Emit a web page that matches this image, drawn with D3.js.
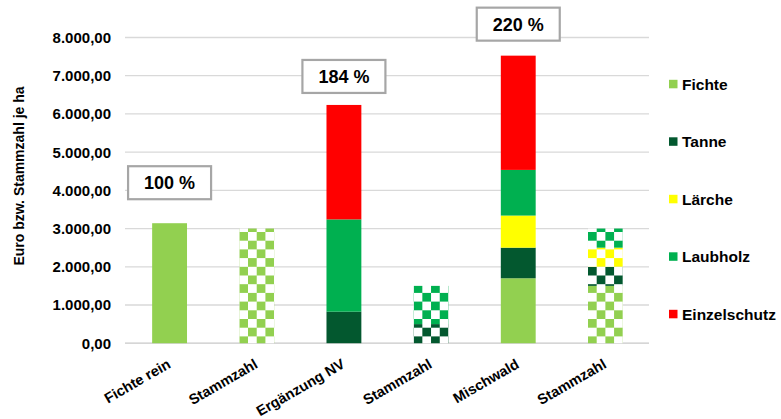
<!DOCTYPE html>
<html><head><meta charset="utf-8">
<script src="https://cdn.jsdelivr.net/npm/d3@7"></script>
<style>
body{margin:0;background:#fff;}
text{font-family:"Liberation Sans",Arial,sans-serif;font-weight:bold;fill:#000;}
</style></head>
<body><svg id="c" width="781" height="419"></svg>
<script>
const categories = ["Fichte rein","Stammzahl","Ergänzung NV","Stammzahl","Mischwald","Stammzahl"];
const seriesNames = ["Fichte","Tanne","Lärche","Laubholz","Einzelschutz"];
const fichte       = [3140, 3000,    0,    0, 1700, 1500];
const tanne        = [   0,    0,  825,  500,  800,  500];
const laerche      = [   0,    0,    0,    0,  840,  500];
const laubholz     = [   0,    0, 2415, 1000, 1195,  500];
const einzelschutz = [   0,    0, 2995,    0, 2990,    0];
const percentLabels = ["100 %", null, "184 %", null, "220 %", null];
const yTicks = [0,1000,2000,3000,4000,5000,6000,7000,8000];

const colors = ["#92d050","#03582f","#ffff00","#00b050","#ff0000"];
const labelGap = [24, 12, 15];

const svg = d3.select("#c");
const x = d3.scaleBand().domain(d3.range(categories.length)).range([126,649]).paddingInner(0.6).paddingOuter(0.3);
const y = d3.scaleLinear().domain([0,8000]).range([343.2,37.5]);
const loc = d3.formatLocale({decimal:",",thousands:".",grouping:[3],currency:["","€"]});
const fmt = loc.format(",.2f");

// gridlines
svg.append("g").selectAll("line").data(yTicks).join("line")
  .attr("x1",125).attr("x2",649).attr("y1",d=>y(d)).attr("y2",d=>y(d))
  .attr("stroke",d=>d===0?"#c8c8c8":"#d9d9d9").attr("stroke-width",1.3);

// y tick labels
svg.append("g").selectAll("text").data(yTicks).join("text")
  .attr("x",111).attr("y",d=>y(d)).attr("dy","0.36em").attr("text-anchor","end")
  .style("font-size","15px").text(d=>fmt(d));

// y title
svg.append("text").attr("transform","translate(23.5,176) rotate(-90)").attr("text-anchor","middle")
  .style("font-size","14px").text("Euro bzw. Stammzahl je ha");

// stack
const rows = categories.map((c,i)=>({i, Fichte:fichte[i], Tanne:tanne[i], "Lärche":laerche[i], Laubholz:laubholz[i], Einzelschutz:einzelschutz[i]}));
const stack = d3.stack().keys(seriesNames)(rows);

const defs = svg.append("defs");
const cell = 8.7;
const patOriginY = 232;
function patternFor(si, ci){
  const id = `p${si}_${ci}`;
  if(!document.getElementById(id)){
    const p = defs.append("pattern").attr("id",id).attr("patternUnits","userSpaceOnUse")
      .attr("x",x(ci)).attr("y",patOriginY).attr("width",cell*2).attr("height",cell*2);
    p.append("rect").attr("width",cell*2).attr("height",cell*2).attr("fill","#fff");
    p.append("rect").attr("width",cell).attr("height",cell).attr("fill",colors[si]);
    p.append("rect").attr("x",cell).attr("y",cell).attr("width",cell).attr("height",cell).attr("fill",colors[si]);
  }
  return `url(#${id})`;
}

stack.forEach((layer,si)=>{
  svg.append("g").selectAll("rect").data(layer.filter(d=>d[1]-d[0]>0)).join("rect")
    .attr("x",d=>x(d.data.i)).attr("width",x.bandwidth())
    .attr("y",d=>y(d[1])).attr("height",d=>y(d[0])-y(d[1]))
    .attr("fill",d=>categories[d.data.i]==="Stammzahl"?patternFor(si,d.data.i):colors[si]);
});

// percent labels
let k=0;
percentLabels.forEach((lab,i)=>{
  if(!lab) return;
  const total = fichte[i]+tanne[i]+laerche[i]+laubholz[i]+einzelschutz[i];
  const cx = x(i)+x.bandwidth()/2;
  const bottom = y(total)-labelGap[k++];
  const w=83,h=33;
  svg.append("rect").attr("x",cx-w/2).attr("y",bottom-h).attr("width",w).attr("height",h)
    .attr("fill","#fff").attr("stroke","#a6a6a6").attr("stroke-width",2.2);
  svg.append("text").attr("x",cx).attr("y",bottom-h/2).attr("dy","0.36em").attr("text-anchor","middle")
    .style("font-size","18px").text(lab);
});

// x labels
svg.append("g").selectAll("text").data(categories).join("text")
  .attr("transform",(d,i)=>`translate(${x(i)+x.bandwidth()/2+2},367) rotate(-30)`)
  .attr("text-anchor","end").style("font-size","14.5px").text(d=>d);

// legend
const lg = svg.append("g").selectAll("g").data(seriesNames).join("g")
  .attr("transform",(d,i)=>`translate(669,${84+i*57.5})`);
lg.append("rect").attr("x",0).attr("y",-4.2).attr("width",8.5).attr("height",8.5).attr("fill",(d,i)=>colors[i]);
lg.append("text").attr("x",13).attr("y",0).attr("dy","0.36em").style("font-size","15.5px").text(d=>d);
</script></body></html>
